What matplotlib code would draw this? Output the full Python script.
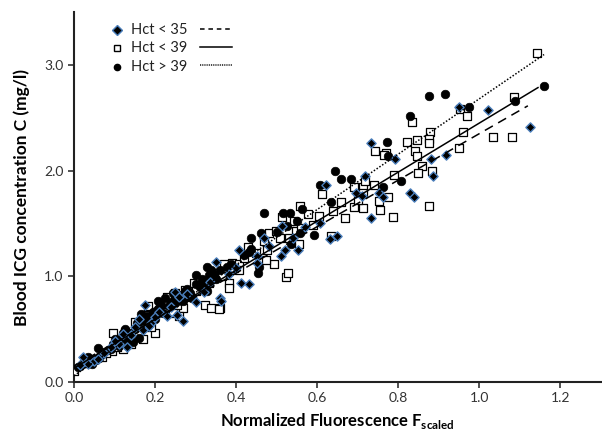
import numpy as np
import matplotlib.pyplot as plt

plt.rcParams['font.family'] = ['Lato', 'DejaVu Sans']
plt.rcParams['mathtext.fontset'] = 'custom'
plt.rcParams['mathtext.rm'] = 'Lato'
plt.rcParams['mathtext.bf'] = 'Lato:bold'

## Hct > 39 (filled circles)
hi_x = [1.16, 1.088, 0.975, 0.916, 0.875, 0.829, 0.773, 0.775, 0.645, 0.659, 0.684, 0.607,
        0.635, 0.762, 0.808, 0.562, 0.593, 0.469, 0.516, 0.533, 0.550, 0.526, 0.501, 0.462,
        0.437, 0.557, 0.535, 0.437, 0.432, 0.42, 0.457, 0.455, 0.388, 0.378, 0.329, 0.339,
        0.334, 0.302, 0.317, 0.351, 0.31, 0.327, 0.285, 0.26, 0.268, 0.248, 0.292, 0.243,
        0.273, 0.224, 0.207, 0.21, 0.195, 0.18, 0.17, 0.185, 0.2, 0.165, 0.175, 0.15, 0.14,
        0.125, 0.118, 0.13, 0.105, 0.11, 0.095, 0.085, 0.075, 0.065, 0.058, 0.05, 0.04,
        0.03, 0.02, 0.015, 0.045, 0.035, 0.145, 0.16, 0.22, 0.235, 0.255,
        0.01, 0.025, 0.055, 0.07, 0.1, 0.115, 0.12, 0.135, 0.155, 0.172, 0.19, 0.205,
        0.215, 0.24, 0.25, 0.28, 0.3, 0.32, 0.345, 0.36, 0.29, 0.13, 0.09, 0.062]
hi_y = [2.80, 2.66, 2.60, 2.73, 2.71, 2.52, 2.27, 2.14, 2.00, 1.92, 1.92, 1.86,
        1.70, 1.85, 1.90, 1.64, 1.39, 1.60, 1.60, 1.60, 1.52, 1.48, 1.42, 1.41,
        1.36, 1.41, 1.31, 1.26, 1.23, 1.20, 1.09, 1.03, 1.12, 1.09, 1.09, 1.06,
        1.01, 1.01, 0.97, 0.97, 0.90, 0.86, 0.84, 0.82, 0.77, 0.75, 0.79, 0.84,
        0.86, 0.79, 0.77, 0.70, 0.66, 0.62, 0.58, 0.55, 0.60, 0.64, 0.52, 0.50, 0.46,
        0.50, 0.43, 0.40, 0.38, 0.34, 0.36, 0.30, 0.28, 0.25, 0.32, 0.22, 0.20,
        0.18, 0.17, 0.15, 0.17, 0.24, 0.38, 0.42, 0.65, 0.72, 0.78,
        0.14, 0.19, 0.21, 0.26, 0.41, 0.37, 0.46, 0.44, 0.56, 0.61, 0.59, 0.68,
        0.73, 0.76, 0.81, 0.88, 0.93, 0.92, 1.02, 1.06, 0.80, 0.36, 0.31, 0.23]

## Hct < 39 (open squares)
mid_x = [1.143, 1.087, 0.953, 0.970, 0.834, 0.879, 0.876, 0.876, 0.961, 0.846, 0.821, 0.742,
         0.769, 0.764, 0.842, 0.846, 1.035, 1.081, 0.951, 0.859, 0.848, 0.884, 0.789, 0.877,
         0.612, 0.691, 0.712, 0.718, 0.741, 0.712, 0.691, 0.712, 0.752, 0.754, 0.776, 0.787,
         0.669, 0.605, 0.578, 0.634, 0.558, 0.514, 0.543, 0.482, 0.548, 0.508, 0.53, 0.555,
         0.477, 0.498, 0.494, 0.474, 0.523, 0.527, 0.371, 0.39, 0.408, 0.408, 0.383, 0.383,
         0.351, 0.334, 0.297, 0.317, 0.322, 0.339, 0.359, 0.268, 0.253, 0.243, 0.357,
         0.0, 0.068, 0.096, 0.094, 0.126, 0.169, 0.199, 0.182, 0.11, 0.14, 0.23, 0.25, 0.26,
         0.21, 0.12, 0.08, 0.16, 0.03, 0.29, 0.3, 0.43, 0.42, 0.45, 0.47, 0.365, 0.59, 0.64,
         0.66, 0.7, 0.56,
         0.045, 0.105, 0.135, 0.15, 0.175, 0.19, 0.22, 0.275, 0.31, 0.34, 0.395]
mid_y = [3.11, 2.70, 2.58, 2.52, 2.46, 2.37, 2.30, 2.26, 2.37, 2.29, 2.27, 2.19,
         2.17, 2.15, 2.19, 2.14, 2.32, 2.32, 2.21, 2.04, 1.98, 2.00, 1.96, 1.67,
         1.78, 1.85, 1.85, 1.90, 1.86, 1.79, 1.66, 1.65, 1.71, 1.63, 1.75, 1.56,
         1.55, 1.57, 1.59, 1.38, 1.67, 1.56, 1.52, 1.41, 1.43, 1.36, 1.36, 1.31,
         1.25, 1.43, 1.12, 1.15, 0.99, 1.03, 1.12, 1.13, 1.12, 1.06, 0.94, 0.89,
         1.03, 0.94, 0.94, 0.90, 0.73, 0.70, 0.70, 0.70, 0.73, 0.65, 0.69,
         0.10, 0.24, 0.46, 0.29, 0.47, 0.41, 0.46, 0.72, 0.40, 0.36, 0.80, 0.84, 0.62,
         0.68, 0.31, 0.27, 0.55, 0.20, 0.80, 0.86, 1.28, 1.17, 1.22, 1.33, 1.00, 1.49, 1.62,
         1.70, 1.72, 1.46,
         0.21, 0.33, 0.42, 0.57, 0.63, 0.52, 0.74, 0.87, 0.96, 0.98, 1.08]

## Hct < 35 (diamonds)
lo_x = [1.125, 1.022, 0.951, 0.919, 0.880, 0.885, 0.791, 0.732, 0.718, 0.695, 0.711, 0.752,
        0.762, 0.828, 0.840, 0.621, 0.734, 0.631, 0.648, 0.607, 0.514, 0.553, 0.521, 0.482,
        0.511, 0.452, 0.408, 0.351, 0.452, 0.413, 0.432, 0.383, 0.359, 0.248, 0.268, 0.253,
        0.363, 0.022, 0.13, 0.175, 0.05, 0.09, 0.11, 0.15, 0.17, 0.19, 0.2, 0.23, 0.28, 0.3,
        0.32, 0.14, 0.06, 0.035, 0.57, 0.47, 0.4, 0.54,
        0.015, 0.075, 0.1, 0.12, 0.16, 0.185, 0.21, 0.24, 0.26, 0.335]
lo_y = [2.41, 2.57, 2.60, 2.15, 2.11, 1.95, 2.11, 2.26, 1.95, 1.79, 1.76, 1.79,
        1.75, 1.79, 1.75, 1.86, 1.55, 1.35, 1.38, 1.50, 1.48, 1.25, 1.25, 1.29,
        1.19, 1.19, 1.25, 1.14, 1.13, 0.94, 0.93, 1.02, 0.79, 0.85, 0.58, 0.63,
        0.77, 0.24, 0.33, 0.73, 0.20, 0.33, 0.36, 0.52, 0.49, 0.56, 0.61, 0.62, 0.83, 0.76,
        0.85, 0.44, 0.22, 0.17,  1.47, 1.36, 1.08, 1.36,
        0.16, 0.27, 0.39, 0.45, 0.60, 0.53, 0.66, 0.71, 0.80, 0.95]

## Linear fits: slope, intercept, x range
fit_lo = (2.20, 0.15, 0.0, 1.12)
fit_mid = (2.32, 0.13, 0.0, 1.145)
fit_hi = (2.62, 0.06, 0.0, 1.16)

fig = plt.figure(figsize=(6.02, 4.36), dpi=100)
ax = fig.add_axes([0.123, 0.124, 0.875, 0.848])

ax.scatter(mid_x, mid_y, marker='s', s=30, facecolor='white', edgecolor='black',
           linewidth=0.9, zorder=3)
ax.scatter(hi_x, hi_y, marker='o', s=38, facecolor='black', edgecolor='black',
           linewidth=0.5, zorder=3)
ax.scatter(lo_x, lo_y, marker='D', s=22, facecolor='black', edgecolor='#4a7ebb',
           linewidth=1.0, zorder=4)

for (m, b, x0, x1), ls in [(fit_lo, (0, (6, 4))), (fit_mid, '-'), (fit_hi, (0, (1, 1.2)))]:
    xs = np.array([x0, x1])
    ax.plot(xs, m * xs + b, color='black', linestyle=ls, linewidth=1.1, zorder=5)

ax.set_xlim(0, 1.3)
ax.set_ylim(0, 3.5)
ax.set_xticks([0.0, 0.2, 0.4, 0.6, 0.8, 1.0, 1.2])
ax.set_yticks([0.0, 1.0, 2.0, 3.0])
ax.xaxis.set_major_formatter(plt.FormatStrFormatter('%.1f'))
ax.yaxis.set_major_formatter(plt.FormatStrFormatter('%.1f'))
ax.tick_params(labelsize=10, length=4, width=1.2, color='#333333', labelcolor='#333333')
for s in ['top', 'right']:
    ax.spines[s].set_visible(False)
for s in ['left', 'bottom']:
    ax.spines[s].set_linewidth(1.5)
    ax.spines[s].set_color('#222222')

ax.set_xlabel(r'Normalized Fluorescence F$_{\mathbf{scaled}}$', fontsize=12,
              fontweight='bold', labelpad=5)
ax.set_ylabel('Blood ICG concentration C (mg/l)', fontsize=12.5, fontweight='bold',
              labelpad=10)

## legend: marker, label, then line sample
rows = [('D', 'black', '#4a7ebb', 'Hct < 35', (0, (3, 2.5)), 0.951),
        ('s', 'white', 'black', 'Hct < 39', '-', 0.903),
        ('o', 'black', 'black', 'Hct > 39', (0, (0.6, 0.6)), 0.853)]
for mk, fc, ec, lab, ls, yy in rows:
    ax.plot([0.082], [yy], marker=mk, markersize=5 if mk != 'o' else 4.5,
            markerfacecolor=fc, markeredgecolor=ec, markeredgewidth=1.0,
            linestyle='none', transform=ax.transAxes, clip_on=False)
    ax.text(0.108, yy, lab, transform=ax.transAxes, fontsize=10.5, va='center',
            color='#222222')
    ax.plot([0.239, 0.300], [yy + 0.004, yy + 0.004], color='black', linestyle=ls,
            linewidth=1.1, transform=ax.transAxes)

fig.savefig('out.png', dpi=100)
